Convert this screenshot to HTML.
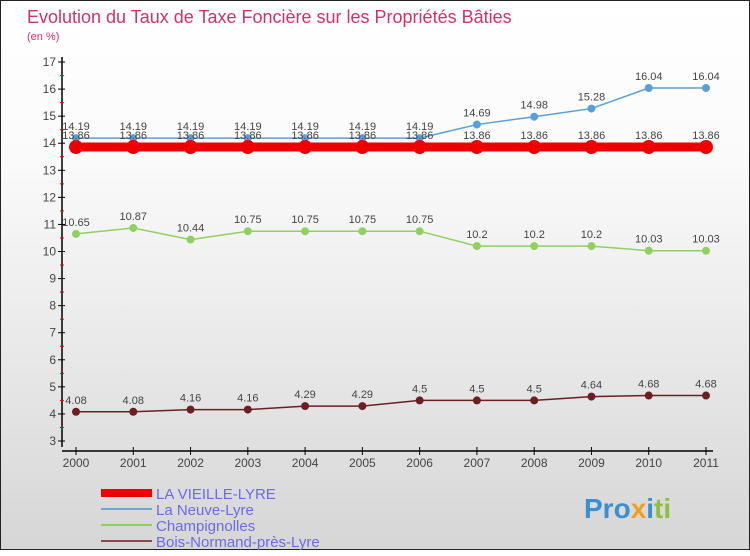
<!DOCTYPE html>
<html><head><meta charset="utf-8"><style>
body{margin:0;width:750px;height:550px;overflow:hidden;font-family:"Liberation Sans",sans-serif}
#c{position:absolute;left:0;top:0;width:748px;height:548px;border:1px solid #222;background:linear-gradient(#fff,#fafafa 30%,#d6d6d6)}
</style></head><body>
<div id="c">
<svg width="750" height="550">
<text x="26" y="22" font-size="18" fill="#d0336a">Evolution du Taux de Taxe Foncière sur les Propriétés Bâties</text>
<text x="26" y="39" font-size="11" fill="#d0336a">(en %)</text>
<g id="g"></g>
<g>
<text x="583" y="517" font-size="28" font-weight="bold" fill="#3a8fd0">Pro<tspan fill="#f0a020">x</tspan><tspan fill="#3a8fd0">i</tspan><tspan fill="#8cc040">ti</tspan></text>
</g>
</svg></div>
<script>
const years=[2000,2001,2002,2003,2004,2005,2006,2007,2008,2009,2010,2011];
const vieille=[13.86,13.86,13.86,13.86,13.86,13.86,13.86,13.86,13.86,13.86,13.86,13.86];
const neuve=[14.19,14.19,14.19,14.19,14.19,14.19,14.19,14.69,14.98,15.28,16.04,16.04];
const champ=[10.65,10.87,10.44,10.75,10.75,10.75,10.75,10.2,10.2,10.2,10.03,10.03];
const bois=[4.08,4.08,4.16,4.16,4.29,4.29,4.5,4.5,4.5,4.64,4.68,4.68];
const yTicks=[3,4,5,6,7,8,9,10,11,12,13,14,15,16,17];
const ns="http://www.w3.org/2000/svg",g=document.getElementById('g');
const X=i=>75+i*(630/(years.length-1)), Y=v=>440-(v-3)*27.07;
function el(t,a){const e=document.createElementNS(ns,t);for(const k in a)e.setAttribute(k,a[k]);g.appendChild(e);return e;}
let e=el('line',{x1:61,y1:56,x2:61,y2:446,stroke:'#000','stroke-width':1.5});


e=el('line',{x1:61,y1:450,x2:712,y2:450,stroke:'#000','stroke-width':1.5});


yTicks.forEach(v=>{
 let t=el('line',{x1:57,x2:64,y1:Y(v),y2:Y(v),stroke:'#000'});
 
 
 if(v<17){let m=el('line',{x1:59,x2:63,y1:Y(v+0.5),y2:Y(v+0.5),stroke:'#e00'});
 
 }
 let l=el('text',{x:55,y:Y(v)+4,'text-anchor':'end','font-size':12,fill:'#444'});l.textContent=v;
 
 
});
years.forEach((y,i)=>{
 let t=el('line',{x1:X(i),x2:X(i),y1:446,y2:454,stroke:'#000'});
 
 
 let l=el('text',{x:X(i),y:466,'text-anchor':'middle','font-size':12,fill:'#444'});l.textContent=y;
 
 
});
function series(d,col,w,r,name,dy){
 let p=el('polyline',{points:d.map((v,i)=>X(i)+','+Y(v)).join(' '),fill:'none',stroke:col,'stroke-width':w});
 
 
 d.forEach((v,i)=>{
  let c=el('circle',{cx:X(i),cy:Y(v),r:r,fill:col});
  
  
  let t=el('text',{x:X(i),y:Y(v)+dy,'text-anchor':'middle','font-size':11,fill:'#444'});t.textContent=v;
  
  
 });
}
series(bois,'#6b1f23',1.5,4,'bois-normand',-8);
series(champ,'#8fd060',1.5,4,'champignolles',-8);
series(neuve,'#5aa0d8',1.5,4,'la-neuve-lyre',-8);
series(vieille,'#ee0000',9,7,'la-vieille-lyre',-8);
const leg=[['LA VIEILLE-LYRE','#ee0000',8],['La Neuve-Lyre','#6aa8d0',2],['Champignolles','#8fd060',2],['Bois-Normand-près-Lyre','#8a4a4a',2]];
leg.forEach((L,i)=>{
 let yy=492+i*16;
 let l=el('line',{x1:100,x2:151,y1:yy,y2:yy,stroke:L[1],'stroke-width':L[2]});
 
 
 let t=el('text',{x:155,y:yy+6,'font-size':15,fill:'#6a6aee'});t.textContent=L[0];
 
 
});
</script></body></html>
